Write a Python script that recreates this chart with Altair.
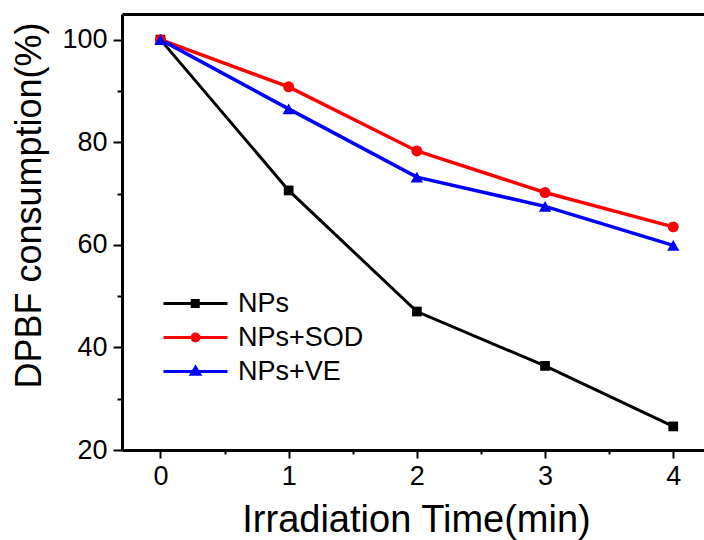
import altair as alt
import pandas as pd

# ---- data ----
times = [0, 1, 2, 3, 4]
series_names = ["NPs", "NPs+SOD", "NPs+VE"]
nps = [100.0, 70.6, 47.0, 36.4, 24.6]
nps_sod = [100.0, 90.8, 78.3, 70.2, 63.5]
nps_ve = [100.0, 86.5, 73.2, 67.5, 59.9]
colors = ["#000000", "#ff0000", "#0000ff"]
marker_shapes = ["square", "circle", "triangle-up"]
marker_sizes = [95, 120, 150]
line_widths = [3.0, 3.5, 3.5]
y_ticks = [20, 30, 40, 50, 60, 70, 80, 90, 100]
x_ticks = [0, 0.5, 1, 1.5, 2, 2.5, 3, 3.5, 4]

rows = []
for name, vals in zip(series_names, [nps, nps_sod, nps_ve]):
    for t, v in zip(times, vals):
        rows.append({"time": t, "value": v, "series": name})
df = pd.DataFrame(rows)

FONT = "Liberation Sans"
W, H = 582, 436

x_scale = alt.Scale(domain=[-0.3, 4.24], nice=False, zero=False)
y_scale = alt.Scale(domain=[20, 105], nice=False, zero=False)

y_enc = alt.Y(
    "value:Q",
    scale=y_scale,
    axis=alt.Axis(
        values=y_ticks,
        title="DPBF consumption(%)",
        labelExpr="datum.value % 20 === 0 ? datum.label : ''",
        tickSize={"condition": {"test": "datum.value % 20 === 0", "value": 9}, "value": 5},
        tickWidth=2,
        tickColor="#000000",
        domainColor="#000000",
        domainWidth=3,
        grid=False,
        labelFont=FONT,
        labelFontSize=27,
        labelColor="#000000",
        labelPadding=6,
        titleFont=FONT,
        titleFontSize=36,
        titleFontWeight="normal",
        titleColor="#000000",
        titleAngle=270,
        titleBaseline="alphabetic",
        titleAlign="center",
        titleX=-82,
        titleY=191,
    ),
)

x_bottom = alt.X(
    "time:Q",
    scale=x_scale,
    axis=alt.Axis(
        orient="bottom",
        values=x_ticks,
        title="Irradiation Time(min)",
        labelExpr="datum.value % 1 === 0 ? format(datum.value, 'd') : ''",
        tickSize={"condition": {"test": "datum.value % 1 === 0", "value": 8}, "value": 4},
        tickWidth=2,
        tickColor="#000000",
        domainColor="#000000",
        domainWidth=3,
        grid=False,
        labelFont=FONT,
        labelFontSize=27,
        labelColor="#000000",
        labelBaseline="alphabetic",
        labelPadding=26,
        labelFlush=False,
        titleFont=FONT,
        titleFontSize=38,
        titleFontWeight="normal",
        titleColor="#000000",
        titleBaseline="alphabetic",
        titleAlign="center",
        titleX=294,
        titleY=81,
    ),
)

x_top = alt.X(
    "time:Q",
    scale=x_scale,
    axis=alt.Axis(
        orient="top",
        values=x_ticks,
        labels=False,
        ticks=False,
        title=None,
        grid=False,
        domainColor="#000000",
        domainWidth=3,
    ),
)

x_plain = alt.X("time:Q", scale=x_scale, axis=None)

line_layers = []
marker_layers = []
for i, (name, col, lw, shp, sz) in enumerate(
    zip(series_names, colors, line_widths, marker_shapes, marker_sizes)
):
    base = alt.Chart(df).transform_filter(alt.datum.series == name)
    line_layers.append(
        base.mark_line(color=col, strokeWidth=lw).encode(
            x=x_bottom if i == 0 else x_plain,
            y=y_enc,
        )
    )
    marker_layers.append(
        base.mark_point(filled=True, opacity=1, shape=shp, size=sz, strokeWidth=0, color=col).encode(
            x=x_top if i == 0 else x_plain,
            y=y_enc,
        )
    )

legend_paths = [
    "M-5.7,0L0.7,0M-2.825,-0.3h0.6v0.6h-0.6Z",
    "M-5.7,0L0.7,0M-2.85,0a0.35,0.35 0 1,0 0.7,0a0.35,0.35 0 1,0 -0.7,0Z",
    "M-5.7,0L0.7,0M-2.5,-0.42L-2.08,0.28L-2.92,0.28Z",
]

legend = alt.Legend(
    orient="none",
    legendX=85,
    legendY=276,
    title=None,
    symbolSize=400,
    symbolStrokeWidth=3,
    symbolOpacity=1,
    labelFont=FONT,
    labelFontSize=27,
    labelColor="#000000",
    labelOffset=4,
    rowPadding=6,
    padding=0,
)

# legend-only layer: its points are drawn with size 0, the legend gets symbolSize
legend_layer = alt.Chart(df).mark_point(filled=True, size=0, opacity=1).encode(
    x=x_plain,
    y=y_enc,
    fill=alt.Fill("series:N", scale=alt.Scale(domain=series_names, range=colors), legend=legend),
    stroke=alt.Stroke("series:N", scale=alt.Scale(domain=series_names, range=colors), legend=legend),
    shape=alt.Shape("series:N", scale=alt.Scale(domain=series_names, range=legend_paths), legend=legend),
)

chart = (
    alt.layer(*line_layers, *marker_layers, legend_layer)
    .resolve_axis(x="independent")
    .properties(
        width=W,
        height=H,
        autosize=alt.AutoSizeParams(type="none"),
        padding={"left": 122, "top": 14, "right": 0, "bottom": 90},
        background="#ffffff",
    )
    .configure_view(stroke=None)
)

chart.save("out.html", embed_options={"renderer": "svg", "actions": False})
